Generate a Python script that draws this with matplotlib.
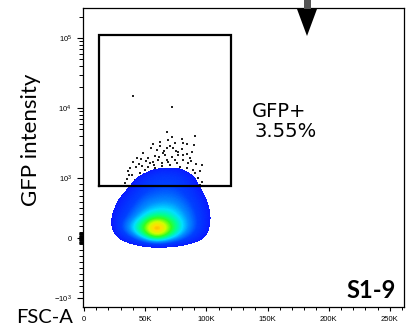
import numpy as np
import matplotlib
matplotlib.use("Agg")
import matplotlib.pyplot as plt
from matplotlib.colors import LinearSegmentedColormap, Normalize
from matplotlib.ticker import FixedLocator, NullFormatter
from matplotlib.patches import Polygon, Rectangle

# ---------------- data ----------------
# density grid (relative event density level)
fsc_grid_k = [9, 19, 29, 39, 49, 59, 69, 79, 89, 99, 109, 119]
gfp_grid = [-250, -50, 150, 350, 550, 750, 950, 1150, 1350, 1550]
density = [
    [-0.5, -0.8, -1.5, -1.5, -1.6, -1.8, -1.6, -1.5, -1.4, -1.0, -0.5, -0.5],
    [-0.5, -0.5, 0.4, 1.6, 3.0, 3.9, 3.3, 2.4, 1.2, 0.3, -0.5, -0.5],
    [-0.5, -0.1, 2.2, 4.0, 6.2, 10.0, 6.4, 4.1, 2.6, 1.1, -0.4, -0.5],
    [-0.5, 0.2, 1.5, 2.6, 3.8, 4.6, 4.4, 3.5, 2.4, 1.2, -0.2, -0.5],
    [-0.5, -0.2, 1.1, 2.0, 2.8, 3.2, 3.3, 2.8, 2.0, 0.9, -0.3, -0.5],
    [-0.5, -0.5, 0.3, 1.4, 2.1, 2.3, 2.4, 2.1, 1.5, 0.4, -0.5, -0.5],
    [-0.5, -0.5, -0.8, 0.5, 1.5, 1.8, 1.9, 1.7, 0.9, -0.3, -0.5, -0.5],
    [-0.5, -0.5, -0.5, -0.6, 0.8, 1.4, 1.4, 1.2, 0.4, -0.5, -0.5, -0.5],
    [-0.5, -0.5, -0.5, -0.5, -0.3, 0.8, 0.9, 0.8, -0.3, -0.5, -0.5, -0.5],
    [-0.5, -0.5, -0.5, -0.5, -0.5, -0.5, -0.5, -0.5, -0.5, -0.5, -0.5, -0.5],
]

# sparse individual events (outliers above the main population)
event_fsc_k = [40.3, 71.7, 67.6, 71.7, 90.7, 80.3, 68.4, 62.1, 81.1, 74.3,
               56.6, 83.9, 89.9, 67.6, 73.0, 79.8, 48.4, 64.8, 66.2, 58.0,
               71.7, 77.0, 81.1, 43.1, 52.5, 60.7, 67.6, 74.3, 81.1, 40.3,
               56.6, 63.5, 75.7, 85.2, 96.2, 47.1, 52.5, 37.6, 49.8, 58.0,
               83.9, 89.3, 45.8, 39.0, 90.7, 34.9, 43.1, 93.4, 33.5, 40.3,
               90.7, 96.2, 39.5, 93.4, 33.5, 39.0, 93.4, 94.8, 37.0, 41.7,
               59.6, 70.3, 76.8, 53.9, 70.3, 86.6, 63.7, 78.4, 44.9, 91.5,
               55.0, 65.5, 84.5, 50.5, 61.5, 87.5, 46.5, 69.0, 75.0, 57.5,
               36.0, 95.0, 42.5, 88.0, 62.5]
event_gfp = [15000, 10400, 4590, 3890, 4020, 3570, 3490, 3300, 3130, 3130,
             3030, 3030, 2960, 2660, 2660, 2570, 2250, 2300, 2130, 2080,
             2010, 2130, 2130, 1910, 1910, 1810, 1810, 1810, 1810, 1710,
             1710, 1650, 1620, 1650, 1530, 1480, 1420, 1380, 1300, 1380,
             1380, 1300, 1170, 1100, 1170, 978, 967, 995, 912, 912,
             912, 938, 845, 845, 755, 828, 800, 883, 1100, 967,
             2510, 2860, 2350, 1640, 1530, 1930, 1480, 1440, 1580, 1580,
             2700, 2400, 2200, 1750, 2000, 1750, 1900, 1700, 2450, 1560,
             1240, 1250, 1450, 2350, 2900]

gate_fsc_k = [12.3, 120.0]
gate_gfp = [867, 110000]
gate_name = "GFP+"
gate_percent = "3.55%"
sample_name = "S1-9"

x_ticks_k = [0, 50, 100, 150, 200, 250]
x_tick_labels = ["0", "50K", "100K", "150K", "200K", "250K"]
y_ticks = [-1000, 0, 1000, 10000, 100000]
y_tick_labels = [r"$-10^{3}$", "0", r"$10^{3}$", r"$10^{4}$", r"$10^{5}$"]
x_label = "FSC-A"
y_label = "GFP intensity"

# ---------------- figure ----------------
plt.rcParams["mathtext.fontset"] = "custom"
plt.rcParams["mathtext.rm"] = "Liberation Sans"
plt.rcParams["mathtext.it"] = "Liberation Sans"
plt.rcParams["mathtext.default"] = "regular"
plt.rcParams["font.family"] = ["Liberation Sans", "DejaVu Sans"]

W, H = 412, 331
fig = plt.figure(figsize=(W / 100, H / 100), dpi=100)
ax = fig.add_axes([83 / W, 24 / H, 321 / W, 299 / H])

ax.set_yscale("symlog", linthresh=1000, linscale=0.771)

nodes = [(0.6, "#0a1aff"), (2.0, "#0040ff"), (3.0, "#0090ff"), (3.7, "#00e0ff"),
         (4.5, "#00ff90"), (5.3, "#30ff20"), (6.3, "#d0ff00"), (7.0, "#ffe000"),
         (8.0, "#ff6000"), (9.0, "#ff1000"), (10.0, "#e80000")]
cmap = LinearSegmentedColormap.from_list(
    "flow", [((v - 0.6) / 9.4, c) for v, c in nodes])
cmap.set_under((1, 1, 1, 0))

fsc_grid = np.array(fsc_grid_k) * 1000.0
dx = (fsc_grid[1] - fsc_grid[0]) / 2
dy = (gfp_grid[1] - gfp_grid[0]) / 2
ax.imshow(np.array(density), origin="lower",
          extent=(fsc_grid[0] - dx, fsc_grid[-1] + dx, gfp_grid[0] - dy, gfp_grid[-1] + dy),
          cmap=cmap, norm=Normalize(0.6, 10.0), interpolation="bicubic",
          interpolation_stage="data", aspect="auto", zorder=2)

ax.scatter(np.array(event_fsc_k) * 1000.0, event_gfp, s=0.7, marker="s",
           c="#222222", linewidths=0, zorder=1)

gx0, gx1 = gate_fsc_k[0] * 1000, gate_fsc_k[1] * 1000
gy0, gy1 = gate_gfp
ax.plot([gx0, gx1, gx1, gx0, gx0], [gy0, gy0, gy1, gy1, gy0], color="black",
        lw=1.6, zorder=4, solid_joinstyle="miter")

ax.set_xlim(-800, 261500)
ax.set_ylim(-1345, 268300)

ax.set_xticks([v * 1000 for v in x_ticks_k])
ax.set_xticklabels(x_tick_labels)
ax.xaxis.set_minor_locator(FixedLocator([v * 1000 for v in range(10, 261, 10)]))
ax.set_yticks(y_ticks)
ax.set_yticklabels(y_tick_labels)
y_minor = ([m * 10 ** e for e in (1, 2, 3, 4) for m in range(1, 10)]
           + [200000]
           + [-m * 10 ** e for e in (1, 2) for m in range(1, 10)])
y_minor = [v for v in y_minor if v not in y_ticks]
ax.yaxis.set_minor_locator(FixedLocator(y_minor))
ax.yaxis.set_minor_formatter(NullFormatter())

ax.tick_params(axis="both", which="major", labelsize=5.5, width=0.8, colors="black")
ax.tick_params(axis="y", which="major", length=4.5, pad=3.5)
ax.tick_params(axis="y", which="minor", length=2.6, width=0.7)
ax.tick_params(axis="x", which="major", length=3.0, pad=3.5)
ax.tick_params(axis="x", which="minor", length=2.2, width=0.7)
for s in ax.spines.values():
    s.set_linewidth(0.9)

# labels
fig.text(31 / W, 1 - 140 / H, y_label, rotation=90, ha="center", va="center",
         fontsize=16, family=["Lato", "DejaVu Sans"])
fig.text(16 / W, 1 - 323 / H, x_label, ha="left", va="baseline",
         fontsize=14.5, family=["Lato", "DejaVu Sans"])
fig.text(396 / W, 1 - 298 / H, sample_name, ha="right", va="baseline",
         fontsize=17, fontweight="bold", family=["Lato", "DejaVu Sans"])
fig.text(252 / W, 1 - 117 / H, gate_name, ha="left", va="baseline",
         fontsize=14, family=["DejaVu Sans"])
fig.text(255 / W, 1 - 137 / H, gate_percent, ha="left", va="baseline",
         fontsize=14, family=["DejaVu Sans"])

# arrow marker at top
def fx(px):
    return px / W

def fy(py):
    return 1 - py / H

shaft = Rectangle((fx(303.5), fy(11)), 7 / W, 11 / H, transform=fig.transFigure,
                  facecolor="#555555", edgecolor="none", zorder=10)
head = Polygon([(fx(297), fy(9)), (fx(317), fy(9)), (fx(307), fy(36))],
               closed=True, transform=fig.transFigure, facecolor="black",
               edgecolor="none", zorder=11)
fig.patches.extend([shaft, head])

fig.savefig("out.png", dpi=100)
